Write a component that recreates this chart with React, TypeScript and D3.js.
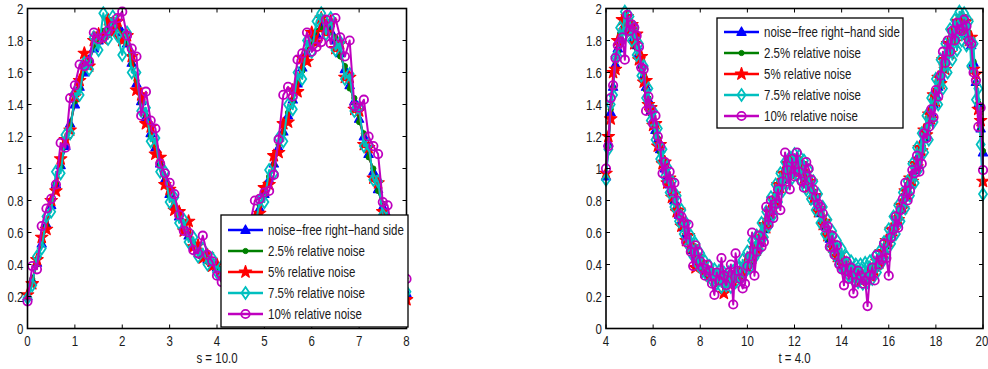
import React from 'react';
import * as d3 from 'd3';

// ---------- data ----------
const SERIES_NAMES = [
  'noise\u2212free right\u2212hand side',
  '2.5% relative noise',
  '5% relative noise',
  '7.5% relative noise',
  '10% relative noise',
];
const COLORS = ['#0000FF', '#008000', '#FF0000', '#00BFBF', '#BF00BF'];
const MARKERS = ['triangle', 'dot', 'star', 'diamond', 'circle'];

const LEFT_X_TICKS = [0, 1, 2, 3, 4, 5, 6, 7, 8];
const RIGHT_X_TICKS = [4, 6, 8, 10, 12, 14, 16, 18, 20];
const Y_TICKS = [0, 0.2, 0.4, 0.6, 0.8, 1, 1.2, 1.4, 1.6, 1.8, 2];
const LEFT_LABEL = 's = 10.0';
const RIGHT_LABEL = 't = 4.0';

const S_START = 0;
const S_STEP = 0.1;
const T_START = 4;
const T_STEP = 0.1;

// left panel (s = 0 .. 8)
const leftFree = [
  0.20, 0.30, 0.41, 0.53, 0.65, 0.77, 0.90, 1.02, 1.14, 1.28, 1.40,
  1.51, 1.60, 1.68, 1.75, 1.80, 1.84, 1.87, 1.89, 1.89, 1.85,
  1.78, 1.66, 1.53, 1.42, 1.32, 1.22, 1.13, 1.03, 0.93, 0.84,
  0.77, 0.70, 0.64, 0.58, 0.53, 0.49, 0.46, 0.43, 0.41, 0.38,
  0.36, 0.34, 0.33, 0.34, 0.38, 0.46, 0.56, 0.66, 0.75, 0.84,
  0.93, 1.03, 1.13, 1.23, 1.33, 1.43, 1.53, 1.63, 1.72, 1.79,
  1.84, 1.88, 1.89, 1.86, 1.80, 1.72, 1.62, 1.52, 1.42, 1.31,
  1.20, 1.09, 0.98, 0.87, 0.76, 0.65, 0.54, 0.43, 0.32, 0.22,
];
const leftNoise25 = [
  0.20, 0.31, 0.40, 0.54, 0.64, 0.78, 0.91, 1.01, 1.16, 1.27, 1.42,
  1.50, 1.62, 1.67, 1.77, 1.79, 1.86, 1.86, 1.91, 1.88, 1.84,
  1.80, 1.65, 1.55, 1.41, 1.33, 1.20, 1.14, 1.02, 0.95, 0.83,
  0.78, 0.69, 0.65, 0.57, 0.54, 0.48, 0.47, 0.42, 0.42, 0.37,
  0.37, 0.33, 0.34, 0.33, 0.39, 0.45, 0.57, 0.65, 0.77, 0.83,
  0.95, 1.02, 1.15, 1.22, 1.35, 1.42, 1.55, 1.61, 1.74, 1.78,
  1.86, 1.87, 1.91, 1.85, 1.82, 1.70, 1.64, 1.50, 1.44, 1.29,
  1.22, 1.07, 1.00, 0.86, 0.78, 0.64, 0.55, 0.42, 0.33, 0.21,
];
const leftNoise5 = [
  0.21, 0.28, 0.43, 0.57, 0.62, 0.80, 0.86, 1.06, 1.18, 1.24, 1.45,
  1.55, 1.72, 1.64, 1.80, 1.84, 1.81, 1.93, 1.85, 1.92, 1.80,
  1.83, 1.70, 1.49, 1.46, 1.28, 1.26, 1.09, 1.07, 0.90, 0.87,
  0.74, 0.73, 0.61, 0.67, 0.51, 0.52, 0.44, 0.46, 0.39, 0.40,
  0.34, 0.36, 0.31, 0.36, 0.36, 0.48, 0.53, 0.69, 0.72, 0.88,
  0.90, 1.08, 1.10, 1.28, 1.29, 1.49, 1.48, 1.69, 1.67, 1.85,
  1.79, 1.94, 1.85, 1.92, 1.75, 1.78, 1.57, 1.57, 1.37, 1.36,
  1.15, 1.13, 0.94, 0.91, 0.73, 0.68, 0.51, 0.45, 0.30, 0.18,
];
const leftNoise75 = [
  0.19, 0.27, 0.45, 0.50, 0.70, 0.73, 0.98, 0.97, 1.21, 1.22, 1.47,
  1.46, 1.66, 1.62, 1.82, 1.74, 1.97, 1.81, 1.95, 1.83, 1.71,
  1.85, 1.60, 1.60, 1.36, 1.38, 1.17, 1.19, 0.98, 0.98, 0.79,
  0.82, 0.66, 0.68, 0.54, 0.57, 0.45, 0.50, 0.40, 0.44, 0.35,
  0.39, 0.31, 0.36, 0.31, 0.41, 0.43, 0.60, 0.62, 0.80, 0.79,
  0.99, 0.97, 1.19, 1.17, 1.40, 1.37, 1.60, 1.56, 1.80, 1.73,
  1.92, 1.97, 1.84, 1.94, 1.74, 1.79, 1.56, 1.59, 1.36, 1.38,
  1.14, 1.15, 0.93, 0.92, 0.71, 0.69, 0.50, 0.46, 0.30, 0.23,
];
const leftNoise10 = [
  0.17, 0.39, 0.37, 0.64, 0.75, 0.81, 0.90, 1.16, 1.13, 1.44, 1.52,
  1.65, 1.64, 1.67, 1.85, 1.81, 1.82, 1.86, 1.89, 1.94, 1.98,
  1.83, 1.75, 1.70, 1.33, 1.48, 1.30, 1.25, 1.03, 0.97, 0.91,
  0.84, 0.71, 0.61, 0.60, 0.49, 0.47, 0.58, 0.46, 0.42, 0.33,
  0.29, 0.30, 0.36, 0.38, 0.45, 0.52, 0.66, 0.80, 0.81, 0.85,
  0.86, 0.96, 1.18, 1.46, 1.51, 1.45, 1.68, 1.72, 1.85, 1.73,
  1.76, 1.79, 1.93, 1.78, 1.94, 1.82, 1.70, 1.80, 1.39, 1.38,
  1.43, 1.20, 1.14, 1.09, 0.79, 0.77, 0.60, 0.48, 0.42, 0.31,
];

// right panel (t = 4 .. 20)
const rightFree = [
  0.95, 1.16, 1.35, 1.51, 1.65, 1.75, 1.82, 1.87, 1.90, 1.91, 1.89,
  1.86, 1.82, 1.77, 1.72, 1.65, 1.58, 1.51, 1.43, 1.36, 1.30,
  1.24, 1.18, 1.12, 1.06, 1.00, 0.95, 0.90, 0.85, 0.80, 0.76,
  0.71, 0.67, 0.63, 0.59, 0.55, 0.52, 0.49, 0.46, 0.43, 0.41,
  0.39, 0.37, 0.35, 0.34, 0.33, 0.32, 0.31, 0.31, 0.30, 0.30,
  0.30, 0.30, 0.30, 0.31, 0.32, 0.33, 0.34, 0.36, 0.38, 0.40,
  0.42, 0.45, 0.48, 0.51, 0.54, 0.58, 0.62, 0.66, 0.70, 0.74,
  0.78, 0.82, 0.86, 0.90, 0.93, 0.96, 0.98, 1.00, 1.01, 1.02,
  1.02, 1.01, 0.99, 0.97, 0.94, 0.91, 0.88, 0.84, 0.80, 0.76,
  0.72, 0.68, 0.64, 0.60, 0.56, 0.53, 0.50, 0.47, 0.44, 0.42,
  0.40, 0.38, 0.36, 0.35, 0.34, 0.33, 0.33, 0.32, 0.32, 0.32,
  0.33, 0.34, 0.36, 0.38, 0.40, 0.43, 0.46, 0.49, 0.52, 0.56,
  0.59, 0.63, 0.66, 0.70, 0.74, 0.78, 0.82, 0.86, 0.90, 0.95,
  0.99, 1.04, 1.09, 1.14, 1.19, 1.24, 1.29, 1.35, 1.40, 1.46,
  1.51, 1.57, 1.62, 1.67, 1.72, 1.76, 1.80, 1.83, 1.86, 1.88,
  1.89, 1.89, 1.87, 1.84, 1.77, 1.66, 1.54, 1.40, 1.25, 1.10,
];
const rightNoise25 = [
  0.96, 1.14, 1.37, 1.50, 1.67, 1.73, 1.84, 1.86, 1.92, 1.89, 1.90,
  1.84, 1.83, 1.75, 1.73, 1.63, 1.59, 1.49, 1.44, 1.34, 1.31,
  1.22, 1.19, 1.10, 1.07, 0.99, 0.96, 0.89, 0.86, 0.79, 0.77,
  0.70, 0.68, 0.62, 0.60, 0.54, 0.53, 0.48, 0.47, 0.42, 0.42,
  0.38, 0.38, 0.34, 0.35, 0.32, 0.33, 0.30, 0.32, 0.29, 0.31,
  0.29, 0.31, 0.29, 0.32, 0.31, 0.34, 0.33, 0.37, 0.37, 0.41,
  0.41, 0.46, 0.47, 0.52, 0.53, 0.59, 0.61, 0.67, 0.69, 0.75,
  0.77, 0.83, 0.85, 0.91, 0.92, 0.97, 0.97, 1.01, 1.00, 1.03,
  1.01, 1.02, 0.98, 0.98, 0.93, 0.92, 0.87, 0.85, 0.79, 0.77,
  0.71, 0.69, 0.63, 0.61, 0.55, 0.54, 0.49, 0.48, 0.43, 0.43,
  0.39, 0.39, 0.35, 0.36, 0.33, 0.34, 0.32, 0.33, 0.31, 0.33,
  0.32, 0.35, 0.35, 0.39, 0.39, 0.44, 0.45, 0.50, 0.51, 0.57,
  0.58, 0.64, 0.65, 0.71, 0.73, 0.79, 0.81, 0.87, 0.89, 0.96,
  0.98, 1.05, 1.08, 1.15, 1.18, 1.25, 1.28, 1.36, 1.39, 1.47,
  1.50, 1.58, 1.61, 1.68, 1.71, 1.77, 1.79, 1.84, 1.85, 1.89,
  1.88, 1.90, 1.86, 1.85, 1.76, 1.67, 1.53, 1.41, 1.24, 1.11,
];
const rightNoise5 = [
  0.97, 1.20, 1.31, 1.60, 1.62, 1.80, 1.79, 1.93, 1.86, 1.95, 1.86,
  1.90, 1.78, 1.84, 1.68, 1.70, 1.54, 1.55, 1.40, 1.38, 1.27,
  1.28, 1.14, 1.15, 1.03, 1.04, 0.91, 0.94, 0.82, 0.84, 0.73,
  0.74, 0.64, 0.66, 0.55, 0.58, 0.50, 0.51, 0.38, 0.45, 0.40,
  0.41, 0.35, 0.37, 0.33, 0.35, 0.30, 0.33, 0.29, 0.31, 0.22,
  0.31, 0.28, 0.32, 0.29, 0.34, 0.31, 0.36, 0.35, 0.40, 0.38,
  0.44, 0.44, 0.50, 0.49, 0.57, 0.56, 0.65, 0.63, 0.73, 0.72,
  0.81, 0.79, 0.90, 0.88, 0.97, 0.94, 1.03, 0.97, 1.06, 0.99,
  1.06, 0.98, 1.03, 0.94, 0.97, 0.88, 0.92, 0.81, 0.83, 0.73,
  0.75, 0.65, 0.67, 0.58, 0.59, 0.51, 0.52, 0.45, 0.46, 0.40,
  0.42, 0.36, 0.38, 0.33, 0.35, 0.32, 0.34, 0.30, 0.33, 0.31,
  0.34, 0.33, 0.37, 0.36, 0.42, 0.41, 0.48, 0.47, 0.55, 0.54,
  0.62, 0.61, 0.69, 0.68, 0.77, 0.75, 0.86, 0.83, 0.94, 0.92,
  1.03, 1.01, 1.13, 1.11, 1.24, 1.21, 1.34, 1.31, 1.46, 1.42,
  1.57, 1.53, 1.68, 1.62, 1.78, 1.72, 1.86, 1.79, 1.92, 1.85,
  1.95, 1.86, 1.92, 1.80, 1.82, 1.62, 1.59, 1.37, 1.30, 0.92,
];
const rightNoise75 = [
  0.93, 1.12, 1.40, 1.46, 1.70, 1.70, 1.88, 1.82, 1.98, 1.86, 1.95,
  1.80, 1.88, 1.71, 1.78, 1.58, 1.64, 1.44, 1.50, 1.30, 1.36,
  1.18, 1.25, 1.06, 1.12, 0.95, 1.01, 0.85, 0.92, 0.76, 0.83,
  0.67, 0.74, 0.59, 0.66, 0.52, 0.58, 0.45, 0.53, 0.40, 0.47,
  0.36, 0.42, 0.33, 0.39, 0.30, 0.37, 0.28, 0.36, 0.26, 0.35,
  0.27, 0.35, 0.26, 0.36, 0.29, 0.38, 0.31, 0.43, 0.35, 0.48,
  0.38, 0.55, 0.44, 0.58, 0.49, 0.66, 0.57, 0.73, 0.64, 0.82,
  0.71, 0.90, 0.79, 0.97, 0.86, 1.04, 0.91, 1.07, 0.94, 1.09,
  0.96, 1.08, 0.92, 1.05, 0.87, 0.99, 0.81, 0.92, 0.74, 0.84,
  0.66, 0.76, 0.59, 0.68, 0.51, 0.61, 0.46, 0.55, 0.40, 0.50,
  0.36, 0.45, 0.33, 0.42, 0.30, 0.40, 0.29, 0.40, 0.28, 0.41,
  0.29, 0.42, 0.31, 0.45, 0.35, 0.48, 0.41, 0.54, 0.46, 0.62,
  0.53, 0.70, 0.59, 0.77, 0.67, 0.85, 0.75, 0.92, 0.83, 1.03,
  0.91, 1.13, 1.00, 1.22, 1.10, 1.33, 1.18, 1.44, 1.29, 1.56,
  1.40, 1.68, 1.50, 1.78, 1.60, 1.87, 1.68, 1.93, 1.74, 1.98,
  1.80, 1.97, 1.77, 1.92, 1.64, 1.78, 1.43, 1.50, 1.15, 0.84,
];
const rightNoise10 = [
  1.00, 1.14, 1.44, 1.52, 1.69, 1.77, 1.79, 1.82, 1.68, 1.96, 1.86,
  1.90, 1.88, 1.83, 1.76, 1.63, 1.62, 1.36, 1.45, 1.37, 1.28,
  1.33, 1.20, 1.14, 0.97, 1.04, 0.91, 0.98, 0.86, 0.91, 0.80,
  0.71, 0.70, 0.66, 0.54, 0.65, 0.48, 0.39, 0.52, 0.48, 0.42,
  0.38, 0.33, 0.40, 0.36, 0.28, 0.21, 0.35, 0.30, 0.44, 0.33,
  0.27, 0.35, 0.40, 0.15, 0.47, 0.36, 0.31, 0.25, 0.28, 0.39,
  0.45, 0.60, 0.33, 0.48, 0.58, 0.51, 0.54, 0.76, 0.65, 0.80,
  0.69, 0.78, 0.87, 0.74, 0.92, 1.10, 0.99, 0.87, 1.06, 0.95,
  1.10, 0.98, 0.92, 0.88, 1.04, 1.00, 0.93, 0.87, 0.82, 0.78,
  0.76, 0.72, 0.63, 0.64, 0.51, 0.58, 0.46, 0.52, 0.40, 0.37,
  0.27, 0.42, 0.31, 0.38, 0.22, 0.29, 0.36, 0.33, 0.28, 0.30,
  0.14, 0.33, 0.38, 0.30, 0.46, 0.40, 0.43, 0.53, 0.44, 0.33,
  0.57, 0.62, 0.70, 0.63, 0.74, 0.81, 0.91, 0.80, 0.86, 0.99,
  0.97, 1.08, 0.98, 1.03, 1.22, 1.19, 1.26, 1.37, 1.32, 1.49,
  1.45, 1.58, 1.73, 1.66, 1.80, 1.73, 1.86, 1.80, 1.91, 1.87,
  1.86, 1.93, 1.89, 1.80, 1.78, 1.60, 1.55, 1.26, 1.38, 0.99,
];

const LEFT_SERIES = [leftFree, leftNoise25, leftNoise5, leftNoise75, leftNoise10];
const RIGHT_SERIES = [rightFree, rightNoise25, rightNoise5, rightNoise75, rightNoise10];

// ---------- layout ----------
const W = 988;
const H = 369;
const FONT = "'Liberation Sans', Arial, sans-serif";
const FONT_SIZE = 14;
const NARROW = 0.82;
const TEXT_COLOR = '#1a1a1a';

function NText({ x, y, anchor, children }: { x: number; y: number; anchor?: string; children: React.ReactNode }) {
  return (
    <text
      transform={`translate(${x},${y}) scale(${NARROW},1)`}
      textAnchor={anchor || 'start'}
      fontFamily={FONT}
      fontSize={FONT_SIZE}
      fill={TEXT_COLOR}
    >
      {children}
    </text>
  );
}

function markerPath(kind: string): string {
  if (kind === 'triangle') return 'M0,-5 L4.6,3.3 L-4.6,3.3 Z';
  if (kind === 'diamond') return 'M0,-6 L4,0 L0,6 L-4,0 Z';
  if (kind === 'star') {
    const pts: string[] = [];
    for (let k = 0; k < 10; k++) {
      const r = k % 2 === 0 ? 6.5 : 2.6;
      const a = -Math.PI / 2 + (k * Math.PI) / 5;
      pts.push(`${(r * Math.cos(a)).toFixed(2)},${(r * Math.sin(a)).toFixed(2)}`);
    }
    return 'M' + pts.join('L') + 'Z';
  }
  return '';
}

function Marker({ kind, color, x, y }: { kind: string; color: string; x: number; y: number }) {
  if (kind === 'dot') return <circle cx={x} cy={y} r={2.6} fill={color} stroke={color} strokeWidth={1} />;
  if (kind === 'circle') return <circle cx={x} cy={y} r={4.2} fill="none" stroke={color} strokeWidth={1.8} />;
  if (kind === 'diamond')
    return <path transform={`translate(${x},${y})`} d={markerPath(kind)} fill="none" stroke={color} strokeWidth={1.8} />;
  return <path transform={`translate(${x},${y})`} d={markerPath(kind)} fill={color} stroke={color} strokeWidth={1.2} strokeLinejoin="round" />;
}

type PanelProps = {
  left: number;
  right: number;
  top: number;
  bottom: number;
  domain: [number, number];
  xTicks: number[];
  start: number;
  step: number;
  series: number[][];
  label: string;
  legend: { x: number; y: number; w: number; h: number; rows: number[] };
};

function Panel(p: PanelProps) {
  const x = d3.scaleLinear().domain(p.domain).range([p.left, p.right]);
  const y = d3.scaleLinear().domain([0, 2]).range([p.bottom, p.top]);
  const tick = 4;
  return (
    <g>
      {p.series.map((vals, si) => {
        const pts: [number, number][] = vals.map((v, i) => [x(p.start + i * p.step), y(v)]);
        const line = d3.line()(pts) || '';
        return (
          <g key={si}>
            <path d={line} fill="none" stroke={COLORS[si]} strokeWidth={2} strokeLinejoin="round" />
            {pts.map((pt, i) => (
              <Marker key={i} kind={MARKERS[si]} color={COLORS[si]} x={pt[0]} y={pt[1]} />
            ))}
          </g>
        );
      })}
      <rect x={p.left} y={p.top} width={p.right - p.left} height={p.bottom - p.top} fill="none" stroke="#000" strokeWidth={1.6} />
      {p.xTicks.map((t) => {
        const tx = Math.min(x(t), W - 6);
        return (
          <g key={'x' + t}>
            <line x1={x(t)} x2={x(t)} y1={p.bottom} y2={p.bottom - tick} stroke="#000" strokeWidth={1} />
            <line x1={x(t)} x2={x(t)} y1={p.top} y2={p.top + tick} stroke="#000" strokeWidth={1} />
            <NText x={tx} y={p.bottom + 17} anchor="middle">{t}</NText>
          </g>
        );
      })}
      {Y_TICKS.map((t) => (
        <g key={'y' + t}>
          <line x1={p.left} x2={p.left + tick} y1={y(t)} y2={y(t)} stroke="#000" strokeWidth={1} />
          <line x1={p.right} x2={p.right - tick} y1={y(t)} y2={y(t)} stroke="#000" strokeWidth={1} />
          <NText x={p.left - 4} y={y(t) + 5} anchor="end">{`${+t.toFixed(1)}`}</NText>
        </g>
      ))}
      <NText x={(p.left + p.right) / 2} y={H - 6} anchor="middle">{p.label}</NText>
      <g>
        <rect x={p.legend.x} y={p.legend.y} width={p.legend.w} height={p.legend.h} fill="#fff" stroke="#000" strokeWidth={1.3} />
        {SERIES_NAMES.map((name, si) => {
          const ry = p.legend.rows[si];
          const lx0 = p.legend.x + 7;
          const lx1 = p.legend.x + 42;
          return (
            <g key={name}>
              <line x1={lx0} x2={lx1} y1={ry} y2={ry} stroke={COLORS[si]} strokeWidth={2.5} />
              <Marker kind={MARKERS[si]} color={COLORS[si]} x={(lx0 + lx1) / 2} y={ry} />
              <NText x={p.legend.x + 47} y={ry + 5}>{name}</NText>
            </g>
          );
        })}
      </g>
    </g>
  );
}

export default function App() {
  return (
    <svg
      width={W}
      height={H}
      viewBox={`0 0 ${W} ${H}`}
      style={{ position: 'absolute', left: 0, top: 0, background: '#fff' }}
    >
      <rect x={0} y={0} width={W} height={H} fill="#fff" />
      <Panel
        left={27.5}
        right={406.5}
        top={8.5}
        bottom={328.5}
        domain={[0, 8]}
        xTicks={LEFT_X_TICKS}
        start={S_START}
        step={S_STEP}
        series={LEFT_SERIES}
        label={LEFT_LABEL}
        legend={{ x: 221, y: 215, w: 187, h: 112, rows: [230, 251, 272, 293, 314] }}
      />
      <Panel
        left={606}
        right={983}
        top={8.5}
        bottom={328.5}
        domain={[4, 20]}
        xTicks={RIGHT_X_TICKS}
        start={T_START}
        step={T_STEP}
        series={RIGHT_SERIES}
        label={RIGHT_LABEL}
        legend={{ x: 717, y: 18, w: 186, h: 110, rows: [32, 53, 74, 95, 116] }}
      />
    </svg>
  );
}
